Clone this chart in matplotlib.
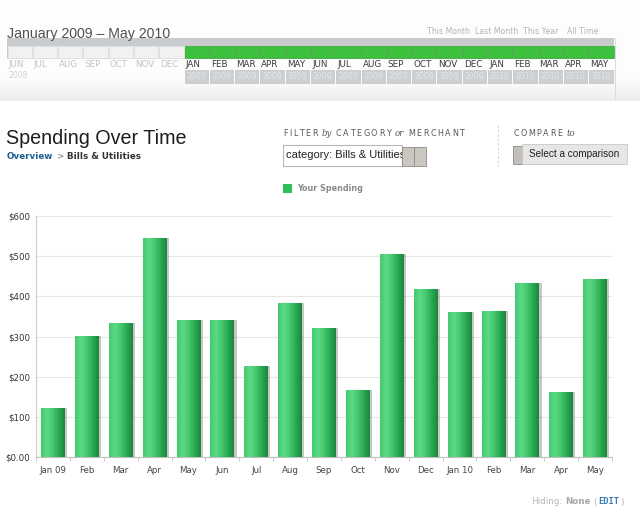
import matplotlib
matplotlib.use('Agg')
import matplotlib.pyplot as plt
import numpy as np
from matplotlib.patches import Rectangle
from matplotlib.colors import LinearSegmentedColormap

# chart data
months = ['Jan 09', 'Feb', 'Mar', 'Apr', 'May', 'Jun', 'Jul', 'Aug', 'Sep',
          'Oct', 'Nov', 'Dec', 'Jan 10', 'Feb', 'Mar', 'Apr', 'May']
spending = [123, 302, 333, 546, 341, 341, 227, 383, 321,
            168, 506, 419, 360, 363, 434, 161, 444]
y_ticks = [0, 100, 200, 300, 400, 500, 600]
y_labels = ['$0.00', '$100', '$200', '$300', '$400', '$500', '$600']

# timeline strip at the top
tl_months = ['JUN', 'JUL', 'AUG', 'SEP', 'OCT', 'NOV', 'DEC',
             'JAN', 'FEB', 'MAR', 'APR', 'MAY', 'JUN', 'JUL', 'AUG', 'SEP',
             'OCT', 'NOV', 'DEC', 'JAN', 'FEB', 'MAR', 'APR', 'MAY']
tl_years = ['2008'] * 7 + ['2009'] * 12 + ['2010'] * 5
tl_active = [False] * 7 + [True] * 17
quick_links = ['This Month', 'Last Month', 'This Year', 'All Time']

W, H = 640, 517
fig = plt.figure(figsize=(6.4, 5.17), dpi=100)
fig.patch.set_facecolor('white')
renderer = fig.canvas.get_renderer()


def X(px):
    return px / W


def Y(py):
    return 1 - py / H


def box(x0, y0, x1, y1, **kw):
    r = Rectangle((X(x0), Y(y1)), X(x1) - X(x0), Y(y0) - Y(y1),
                  transform=fig.transFigure, **kw)
    fig.add_artist(r)
    return r


def txt(x, y, s, **kw):
    kw.setdefault('va', 'center')
    return fig.text(X(x), Y(y), s, **kw)


def runs(x, y, parts, **common):
    """draw text pieces one after another; 'track' in a part spaces letters"""
    for s, kw, gap in parts:
        opts = dict(common)
        opts.update(kw)
        track = opts.pop('track', 0)
        pieces = list(s) if track else [s]
        for p in pieces:
            t = txt(x, y, p, ha='left', **opts)
            x += t.get_window_extent(renderer).width + track
        x += gap - track
    return x


# ---- top band background with soft shadow at its lower edge
bg = fig.add_axes([0, Y(101), 1, 101 / H])
col = np.full(101, 0.99)
col[78:101] = np.linspace(0.99, 0.925, 23)
bg.imshow(col[:, None], cmap='gray', vmin=0, vmax=1,
          aspect='auto', extent=(0, 1, 0, 1), interpolation='nearest')
bg.axis('off')

txt(7, 38, 'January 2009 \u2013 May 2010', family='Liberation Sans',
    fontsize=10.2, color='#505050', va='baseline')
for lab, lx in zip(quick_links, [427, 475, 523, 567]):
    txt(lx, 32, lab, fontsize=5.6, color='#b4b4b4')

# timeline cells
cell_w = (614 - 7) / len(tl_months)
box(7, 38, 614, 59, facecolor='#c9cccf', edgecolor='none')
for i, (m, yr, act) in enumerate(zip(tl_months, tl_years, tl_active)):
    cx = 7 + i * cell_w
    box(cx + 0.5, 46, cx + cell_w - 0.5, 58,
        facecolor='#3dc03d' if act else '#f1f1f1',
        edgecolor='#35a835' if act else '#e2e2e2', lw=0.5)
    txt(cx + 1.5, 64.5, m, fontsize=6.3, ha='left',
        color='#3a3a3a' if act else '#c4c4c4')
    if act:
        box(cx + 0.5, 70, cx + cell_w - 1.5, 83, facecolor='#cdd0d2',
            edgecolor='#bfc2c4', lw=0.5)
        txt(cx + cell_w / 2 - 0.5, 76.5, yr, fontsize=5.6, ha='center',
            color='#e4e4e4')
    elif i == 0:
        txt(cx + 1.5, 75, yr, fontsize=5.6, ha='left', color='#d2d2d2')
fig.add_artist(plt.Line2D([X(614.5)] * 2, [Y(38), Y(98)],
                          transform=fig.transFigure, color='#dcdcdc', lw=0.8))

# ---- header area
txt(6, 144.5, 'Spending Over Time', family='Liberation Sans', fontsize=14.2,
    color='#1e1e1e', va='baseline')
runs(7, 156, [('Overview', {'color': '#1d5f91'}, 3),
              ('>', {'color': '#777777', 'weight': 'normal'}, 3),
              ('Bills & Utilities', {'color': '#333333'}, 0)],
     fontsize=6.3, weight='bold')

sm = dict(fontsize=5.8, color='#555555', track=1.6)
it = dict(family='DejaVu Serif', style='italic', fontsize=6.2, color='#555555')
runs(283, 134, [('FILTER', sm, 4), ('by', it, 4), ('CATEGORY', sm, 4),
                ('or', it, 4), ('MERCHANT', sm, 0)])
runs(513, 134, [('COMPARE', sm, 4), ('to', it, 0)])
fig.add_artist(plt.Line2D([X(498)] * 2, [Y(125), Y(166)],
                          transform=fig.transFigure, color='#cfcfcf',
                          lw=0.8, ls=(0, (2, 2))))

inp = box(283, 145, 402, 166, facecolor='white', edgecolor='#b8b8b8', lw=0.8)
t = txt(286, 155.5, 'category: Bills & Utilities', family='Liberation Sans',
        fontsize=8, color='#222222')
t.set_clip_path(inp)
box(402, 147, 414, 166, facecolor='#cac6c0', edgecolor='#8e8a86', lw=0.6)
box(414, 147, 426, 166, facecolor='#cac6c0', edgecolor='#8e8a86', lw=0.6)

box(513, 146, 522, 164, facecolor='#c3bfba', edgecolor='#8e8a86', lw=0.6)
box(522, 144, 627, 164, facecolor='#e6e6e6', edgecolor='#c8c8c8', lw=0.6)
txt(574.5, 154, 'Select a comparison', family='Liberation Sans',
    fontsize=7.2, color='#222222', ha='center')

# legend
box(283, 184, 292, 193, facecolor='#2fbf5a', edgecolor='none')
txt(297, 188.5, 'Your Spending', fontsize=5.8, weight='bold', color='#8a8a8a')

# ---- bar chart
ax = fig.add_axes([X(36), Y(457), X(612) - X(36), (457 - 216) / H])
pos = np.arange(len(months))
bar_w = 0.7
ax.bar(pos + 0.07, spending, bar_w, color='#000000', alpha=0.22,
       zorder=2, linewidth=0)
bars = ax.bar(pos, spending, bar_w, color='#33c060', zorder=3, linewidth=0)
cmap = LinearSegmentedColormap.from_list(
    'bar', ['#45c96f', '#5cda86', '#44c86c', '#2ba953', '#1a873d'])
grad = np.linspace(0, 1, 64).reshape(1, -1)
for rect in bars:
    x0, w, h = rect.get_x(), rect.get_width(), rect.get_height()
    im = ax.imshow(grad, cmap=cmap, extent=(x0, x0 + w, 0, h),
                   aspect='auto', zorder=4, interpolation='bicubic')
    im.set_clip_path(rect)

ax.set_xlim(-0.5, len(months) - 0.5)
ax.set_ylim(0, 600)
ax.set_xticks(pos)
ax.set_xticklabels(months)
ax.set_xticks(np.arange(len(months) + 1) - 0.5, minor=True)
ax.set_yticks(y_ticks)
ax.set_yticklabels(y_labels)
ax.tick_params(axis='x', which='major', length=0, pad=6.5, labelsize=6.2,
               labelcolor='#444444')
ax.tick_params(axis='x', which='minor', length=3, color='#c4c4c4', width=0.6)
ax.tick_params(axis='y', length=0, pad=4.3, labelsize=6.2,
               labelcolor='#333333')
ax.yaxis.grid(True, color='#e6e6e6', lw=0.8)
ax.set_axisbelow(True)
for s in ['top', 'right']:
    ax.spines[s].set_visible(False)
ax.spines['left'].set_color('#cccccc')
ax.spines['bottom'].set_color('#c0c0c0')
ax.spines['left'].set_linewidth(0.8)
ax.spines['bottom'].set_linewidth(0.8)

# footer
mono = dict(family='DejaVu Sans Mono', weight='bold', color='#3d7db3')
runs(531, 502, [('Hiding:', {'color': '#b9b9b9'}, 3),
                ('None', {'color': '#a8a8a8', 'weight': 'bold'}, 3),
                ('(', {'color': '#b0b0b0'}, 1),
                ('EDIT', mono, 1),
                (')', {'color': '#b0b0b0'}, 0)], fontsize=6.3)

fig.savefig('out.png', dpi=100)
